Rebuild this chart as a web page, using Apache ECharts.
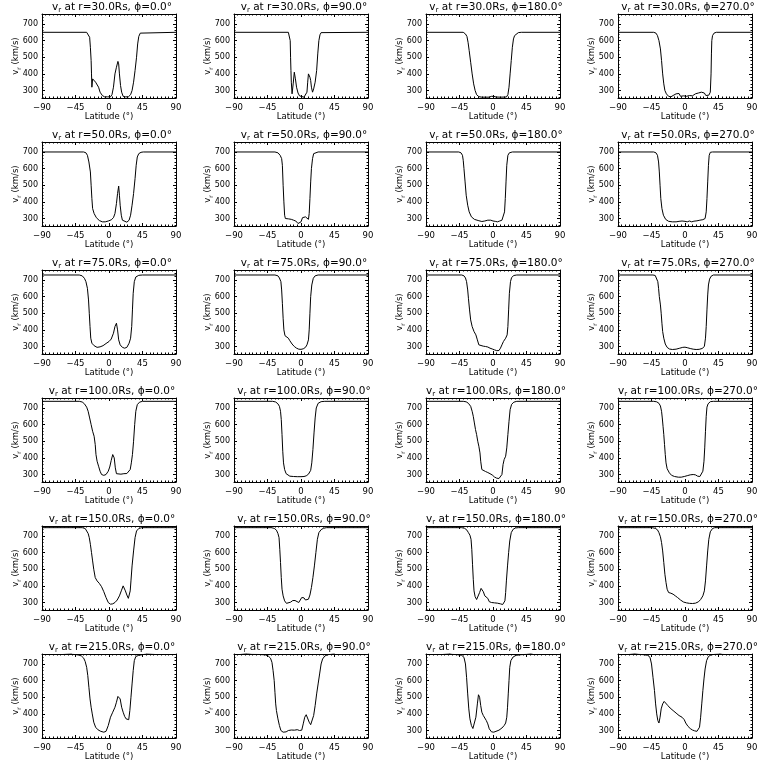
<!DOCTYPE html>
<html>
<head>
<meta charset="utf-8">
<script src="https://cdn.jsdelivr.net/npm/echarts@6/dist/echarts.min.js"></script>
<style>html,body{margin:0;padding:0;background:#fff;}#c{width:768px;height:768px;}</style>
</head>
<body>
<div id="c"></div>
<script>
// ---- data: [latitude (deg), v_r (km/s)] ----
const radii = [30.0, 50.0, 75.0, 100.0, 150.0, 215.0];
const phis = [0.0, 90.0, 180.0, 270.0];
const xTicks = [-90, -45, 0, 45, 90];
const yTicks = [300, 400, 500, 600, 700];
const yRange = [255, 760];

const r30_p0 = [[-90,650],[-30,650],[-27.5,645],[-26,620],[-25,560],[-24,480],[-23.5,400],[-23,320],[-22,370],[-20,360],[-18,350],[-16,345],[-14,320],[-12,290],[-9,270],[-6,262],[-2,262],[2,262],[4,275],[6,320],[8,400],[10,440],[12,475],[13,460],[14,400],[15.5,330],[17,290],[19,265],[22,262],[26,262],[29,275],[31,300],[33,350],[35,420],[37,500],[38.5,580],[40,625],[42,645],[44,650],[90,650]];
const r30_p90 = [[-90,650],[-17,650],[-15.5,640],[-14.5,600],[-14,500],[-13.5,420],[-13,350],[-12,280],[-10.5,340],[-9,410],[-7.5,370],[-6,320],[-4,285],[-2,268],[0,262],[4,260],[6,265],[8,290],[9,350],[10,400],[11,395],[12,380],[13,360],[14,320],[15.5,290],[17,310],[19,350],[21,420],[22.5,520],[24,600],[25.5,635],[27,648],[29,650],[90,650]];
const r30_p180 = [[-90,650],[-40,650],[-37,640],[-35,625],[-33.5,590],[-32,540],[-30,470],[-28,400],[-26,340],[-24,300],[-22,275],[-19,263],[-15,260],[-5,260],[-2,265],[1,265],[4,261],[10,260],[18,261],[20,275],[21.5,320],[23,400],[24.5,480],[26,560],[27.5,610],[29,630],[31,642],[34,648],[38,650],[90,650]];
const r30_p270 = [[-90,650],[-42,650],[-39,645],[-37,630],[-35,600],[-33,550],[-31.5,480],[-30,400],[-28.5,340],[-27,300],[-25,280],[-22,265],[-19,262],[-16,270],[-14,262],[-12,280],[-10,270],[-8,282],[-6,265],[-4,275],[-2,268],[0,272],[2,265],[4,275],[6,270],[8,272],[10,268],[12,275],[14,280],[16,272],[18,285],[20,278],[22,290],[24,280],[26,285],[28,270],[30,265],[32,272],[34,290],[35,400],[35.5,520],[36,600],[37,630],[39,645],[42,650],[90,650]];

const r50_p0 = [[-90,700],[-34,700],[-31,695],[-29,680],[-27,640],[-25,580],[-24,500],[-23,420],[-22,360],[-20,330],[-17,305],[-13,288],[-9,280],[-5,280],[-1,285],[3,292],[6,305],[8,330],[10,390],[11.5,450],[13,495],[14,440],[15,380],[16.5,320],[18,290],[20,278],[24,278],[27,290],[29,320],[31,380],[33,450],[35,540],[36.5,620],[38,670],[40,690],[43,698],[46,700],[90,700]];
const r50_p90 = [[-90,700],[-35,700],[-31,695],[-28,680],[-26,660],[-25,620],[-24,500],[-23,400],[-22,320],[-21,300],[-17,298],[-13,295],[-10,290],[-7,285],[-4,270],[-2,266],[0,280],[2,305],[4,312],[6,310],[8,298],[10,295],[11,330],[12,420],[13,520],[14,600],[15.5,660],[17,690],[19,698],[23,700],[90,700]];
const r50_p180 = [[-90,700],[-46,700],[-43,695],[-41,680],[-40,650],[-39,600],[-37.5,520],[-36,440],[-34,380],[-32,340],[-29,310],[-25,295],[-20,288],[-15,282],[-11,285],[-7,290],[-3,290],[0,285],[3,283],[6,280],[9,285],[12,290],[14,300],[15.5,340],[16.5,420],[17.5,520],[18.5,620],[20,680],[22,695],[26,700],[90,700]];
const r50_p270 = [[-90,700],[-42,700],[-39,695],[-37,680],[-35.5,640],[-34.5,580],[-33.5,500],[-32.5,420],[-31,360],[-29,320],[-26,295],[-22,283],[-17,280],[-12,280],[-8,283],[-4,285],[0,283],[3,280],[6,285],[9,280],[12,284],[16,286],[20,290],[24,293],[27,300],[28.5,340],[29.5,420],[30.5,520],[31.5,620],[32.5,680],[34,698],[37,700],[90,700]];

const r75_p0 = [[-90,730],[-40,730],[-36,725],[-33,710],[-31,690],[-29,650],[-27.5,580],[-26.5,500],[-25.5,420],[-24.5,350],[-23,320],[-20,305],[-16,295],[-12,298],[-8,305],[-4,318],[0,330],[3,345],[6,380],[8,420],[10,440],[11.5,400],[13,340],[15,310],[18,295],[21,290],[24,295],[27,320],[29,350],[30.5,420],[31.5,520],[32.5,620],[34,690],[36,718],[40,728],[45,730],[90,730]];
const r75_p90 = [[-90,730],[-35,730],[-31,725],[-29,712],[-27,690],[-26,640],[-25,560],[-24,470],[-23,400],[-21.5,365],[-19,360],[-17,350],[-15,335],[-12,315],[-9,300],[-6,290],[-3,284],[0,283],[3,286],[6,295],[8,310],[10,340],[11,400],[12,500],[13,600],[14.5,670],[16.5,710],[19,725],[23,730],[90,730]];
const r75_p180 = [[-90,730],[-42,730],[-39,725],[-37,712],[-35.5,690],[-34,640],[-33,590],[-31.5,520],[-30,460],[-28,420],[-25.5,390],[-23,370],[-21,340],[-19,310],[-17,302],[-13,302],[-10,300],[-7,297],[-4,290],[-1,285],[2,280],[5,275],[8,276],[10,290],[12,310],[14,330],[17,350],[19,370],[20,420],[21,520],[22,620],[23.5,690],[25,715],[28,727],[32,730],[90,730]];
const r75_p270 = [[-90,730],[-43,730],[-40,727],[-38,715],[-36.5,690],[-35.5,650],[-34.5,600],[-33,550],[-32,500],[-31,440],[-30,390],[-28.5,350],[-26.5,315],[-24,295],[-21,285],[-17,282],[-12,284],[-7,290],[-3,295],[0,296],[3,293],[7,288],[11,284],[15,282],[19,283],[23,288],[26,300],[27.5,350],[28.5,420],[29.5,520],[30.5,610],[31.5,670],[33,705],[35,722],[38,730],[90,730]];

const r100_p0 = [[-90,740],[-40,740],[-36,736],[-33,725],[-30,705],[-28,680],[-26,640],[-24,600],[-22,560],[-20,530],[-18.5,480],[-17.5,420],[-16,380],[-14,350],[-12,320],[-10,300],[-7,295],[-4,300],[-1,320],[1,345],[3,385],[5,420],[6,425],[7,400],[8.5,340],[10,305],[12,298],[16,302],[20,305],[24,306],[26.5,310],[28.5,330],[30,370],[31.5,420],[33,500],[34.5,600],[36,680],[38,720],[41,735],[45,740],[90,740]];
const r100_p90 = [[-90,740],[-38,740],[-34,736],[-31,725],[-29,710],[-27.5,680],[-26.5,630],[-25.5,540],[-24.5,440],[-23.5,370],[-22,330],[-20,305],[-18,295],[-15,290],[-10,288],[-5,287],[0,287],[4,288],[7,292],[10,302],[13,325],[14.5,370],[16,450],[17.5,550],[19,640],[20.5,700],[23,728],[27,738],[32,740],[90,740]];
const r100_p180 = [[-90,740],[-40,740],[-36,737],[-33,728],[-30,710],[-28,680],[-26.5,650],[-25,610],[-23.5,570],[-22,540],[-20.5,500],[-19,470],[-17.5,430],[-16.5,380],[-15,330],[-13,322],[-10,318],[-7,312],[-4,305],[-1,297],[2,285],[5,278],[8,276],[10.5,280],[12,300],[13.5,360],[15,390],[17,410],[18.5,460],[20,540],[21.5,620],[23,690],[25,722],[28,735],[32,740],[90,740]];
const r100_p270 = [[-90,740],[-42,740],[-38,737],[-35,728],[-33,712],[-31.5,680],[-30.5,640],[-29.5,590],[-28.5,540],[-27.5,480],[-26.5,420],[-25.5,370],[-24,335],[-21,310],[-18,295],[-14,288],[-9,284],[-5,284],[-1,288],[3,293],[7,298],[11,300],[14,298],[17,290],[20,288],[22,295],[24,320],[25.5,380],[26.5,460],[27.5,560],[28.5,650],[29.5,705],[31,725],[34,738],[38,740],[90,740]];

const r150_p0 = [[-90,750],[-36,750],[-32,745],[-30,735],[-28,715],[-26.5,690],[-25,650],[-23.5,600],[-22,550],[-20.5,500],[-18.5,450],[-16,430],[-13,415],[-10,395],[-7,365],[-4,330],[-1,300],[2,290],[5,292],[8,300],[11,315],[14,340],[16.5,370],[19,400],[20.5,390],[22,370],[24,345],[26,325],[27.5,335],[28.5,370],[29.5,430],[31,520],[33,610],[35,690],[37,730],[40,745],[44,750],[90,750]];
const r150_p90 = [[-90,750],[-40,750],[-36,746],[-33,735],[-31,715],[-29.5,690],[-28.5,620],[-27.5,540],[-26.5,450],[-25.5,380],[-24,340],[-22,310],[-19.5,295],[-17,292],[-14,302],[-11,312],[-8,312],[-6,302],[-3,300],[-1,305],[1,330],[2.5,340],[4,328],[6,315],[8,310],[10,320],[12,345],[14,390],[16,450],[18,520],[20,600],[22,680],[24,720],[27,738],[30,746],[34,750],[90,750]];
const r150_p180 = [[-90,750],[-42,750],[-38,746],[-35,735],[-33,720],[-31,705],[-29.5,680],[-28.5,620],[-27.5,530],[-26.5,440],[-25.5,370],[-24,335],[-22,318],[-20,330],[-18,360],[-16,385],[-14.5,390],[-13,365],[-11,340],[-9,335],[-7,325],[-5,305],[-2,300],[2,298],[6,296],[10,292],[13,288],[15,290],[16,310],[17,360],[18,430],[19.5,520],[21,600],[22.5,670],[24.5,720],[27,740],[30,748],[34,750],[90,750]];
const r150_p270 = [[-90,750],[-44,750],[-40,746],[-37,737],[-35,720],[-33,695],[-31.5,660],[-30,610],[-28.5,540],[-27,470],[-25.5,420],[-24,380],[-22,360],[-19,356],[-16,350],[-13,340],[-10,330],[-6,315],[-2,303],[2,298],[6,295],[10,294],[14,296],[18,304],[21,318],[24,340],[26,370],[27.5,430],[29,520],[30.5,610],[32,680],[34,725],[37,745],[40,750],[90,750]];

const r215_p0 = [[-90,780],[-52,765],[-49,758],[-44,756],[-40,753],[-37,748],[-34,735],[-32,715],[-30,680],[-28.5,630],[-27,560],[-25.5,490],[-24,440],[-22.5,400],[-20.5,350],[-18,320],[-15,305],[-11,295],[-7,290],[-4,295],[-1,330],[2,380],[5,410],[8,440],[10,470],[12,505],[13.5,510],[15,490],[17,440],[19,410],[21,385],[23,370],[25,360],[26.5,365],[28,420],[29.5,500],[31,580],[32.5,660],[34,720],[36,745],[40,752],[45,756],[49,759],[52,765],[90,780]];
const r215_p90 = [[-90,775],[-72,762],[-66,758],[-56,757],[-48,755],[-44,748],[-41,735],[-39,710],[-37.5,660],[-36,600],[-35,530],[-34,460],[-33,420],[-31,370],[-29,330],[-27,300],[-24,290],[-20,292],[-17,300],[-13,303],[-9,302],[-5,305],[-2,300],[1,302],[3,340],[5,380],[7,395],[9,385],[11,350],[13,335],[15,345],[17,390],[19,450],[21,520],[23,580],[25,640],[27,700],[29,730],[32,748],[36,756],[40,758],[44,762],[48,775],[90,780]];
const r215_p180 = [[-90,780],[-60,765],[-55,758],[-48,756],[-42,752],[-39,740],[-37,700],[-35.5,620],[-34,520],[-32.5,430],[-31,370],[-29,330],[-27,312],[-25,320],[-23,380],[-21,460],[-19.5,515],[-18,500],[-16.5,450],[-15,410],[-13,390],[-11,380],[-9,360],[-7,340],[-5,310],[-2,292],[1,290],[4,295],[8,302],[12,315],[15,330],[17,345],[18.5,380],[19.5,440],[20.5,520],[21.5,600],[22.5,680],[24,720],[27,742],[31,752],[38,756],[45,758],[50,762],[55,770],[90,780]];
const r215_p270 = [[-90,780],[-70,765],[-62,758],[-56,756],[-50,752],[-47,740],[-45,700],[-43,620],[-41,540],[-39.5,460],[-38,400],[-36.5,360],[-35,345],[-33.5,380],[-32,430],[-30,460],[-28,475],[-26,465],[-23,450],[-20,435],[-16,420],[-12,405],[-8,390],[-4,380],[-1,365],[1,345],[4,325],[7,312],[10,303],[13,298],[16,295],[18,300],[19.5,320],[21,380],[22.5,460],[24,540],[25.5,610],[27,670],[29,720],[31.5,745],[35,755],[40,758],[45,760],[50,768],[90,780]];

const profiles = [
  [r30_p0, r30_p90, r30_p180, r30_p270],
  [r50_p0, r50_p90, r50_p180, r50_p270],
  [r75_p0, r75_p90, r75_p180, r75_p270],
  [r100_p0, r100_p90, r100_p180, r100_p270],
  [r150_p0, r150_p90, r150_p180, r150_p270],
  [r215_p0, r215_p90, r215_p180, r215_p270]
];

// ---- layout ----
const CELL_W = 192, CELL_H = 128;
const PL = 42, PT = 14, PW = 134, PH = 84;
const FONT = 'DejaVu Sans';
const rich = {
  v: {fontFamily: FONT, fontSize: 10.5, fontWeight: 'normal', color: '#000', lineHeight: 14},
  s: {fontFamily: FONT, fontSize: 7, fontWeight: 'normal', color: '#000', verticalAlign: 'bottom', lineHeight: 8},
  t: {fontFamily: FONT, fontSize: 10.5, fontWeight: 'normal', color: '#000', lineHeight: 14}
};
const richY = {
  v: {fontFamily: FONT, fontSize: 8.5, fontWeight: 'normal', color: '#000', lineHeight: 12},
  s: {fontFamily: FONT, fontSize: 6, fontWeight: 'normal', color: '#000', verticalAlign: 'bottom', lineHeight: 7},
  t: {fontFamily: FONT, fontSize: 8.5, fontWeight: 'normal', color: '#000', lineHeight: 12}
};
const minusFmt = v => (v < 0 ? '\u2212' + (-v) : String(v));

const grids = [], xAxes = [], yAxes = [], series = [], titles = [];
let idx = 0;
radii.forEach((r, ri) => {
  phis.forEach((p, ci) => {
    const left = ci * CELL_W + PL, top = ri * CELL_H + PT;
    grids.push({left: left, top: top, width: PW, height: PH, containLabel: false});
    titles.push({
      text: '{v|v}{s|r}{t| at r=' + r.toFixed(1) + 'Rs, \u03D5=' + p.toFixed(1) + '\u00B0}',
      left: left + PW / 2 + 3, top: ri * CELL_H, textAlign: 'center', padding: 0,
      textStyle: {fontWeight: 'normal', fontFamily: FONT, fontSize: 10.5, color: '#000', rich: rich}
    });
    const xCommon = {
      type: 'value', gridIndex: idx, min: xTicks[0], max: xTicks[xTicks.length - 1], interval: 45,
      axisLine: {show: true, onZero: false, lineStyle: {color: '#000', width: 1}},
      axisTick: {show: true, inside: true, length: 3, lineStyle: {color: '#000', width: 1}},
      minorTick: {show: true, splitNumber: 9, length: 1.5, lineStyle: {color: '#000', width: 1}},
      splitLine: {show: false}, minorSplitLine: {show: false}
    };
    xAxes.push(Object.assign({}, xCommon, {
      position: 'bottom',
      name: 'Latitude (\u00B0)', nameLocation: 'middle', nameGap: 14, nameMoveOverlap: false,
      nameTextStyle: {fontFamily: FONT, fontSize: 8.5, color: '#000'},
      axisLabel: {show: true, margin: 5, fontFamily: FONT, fontSize: 8.5, color: '#000', showMinLabel: true, showMaxLabel: true, formatter: minusFmt}
    }));
    xAxes.push(Object.assign({}, xCommon, {position: 'top', axisLabel: {show: false}}));
    const yCommon = {
      type: 'value', gridIndex: idx, min: yRange[0], max: yRange[1], splitNumber: 5,
      axisLine: {show: true, onZero: false, lineStyle: {color: '#000', width: 1}},
      axisTick: {show: true, inside: true, length: 3, customValues: yTicks, lineStyle: {color: '#000', width: 1}},
      minorTick: {show: true, splitNumber: 5, length: 1.5, lineStyle: {color: '#000', width: 1}},
      splitLine: {show: false}, minorSplitLine: {show: false}
    };
    yAxes.push(Object.assign({}, yCommon, {
      position: 'left',
      name: '{v|v}{s|r}{t| (km/s)}', nameLocation: 'middle', nameGap: 20, nameRotate: 90, nameMoveOverlap: false,
      nameTextStyle: {rich: richY},
      axisLabel: {show: true, margin: 4, fontFamily: FONT, fontSize: 8, color: '#000', customValues: yTicks}
    }));
    yAxes.push(Object.assign({}, yCommon, {position: 'right', axisLabel: {show: false}}));
    series.push({
      type: 'line', xAxisIndex: 2 * idx, yAxisIndex: 2 * idx,
      data: profiles[ri][ci], showSymbol: false, symbol: 'none', clip: true,
      lineStyle: {color: '#000', width: 1}, animation: false
    });
    idx++;
  });
});

const chart = echarts.init(document.getElementById('c'), null, {renderer: 'canvas'});
chart.setOption({
  backgroundColor: '#fff',
  animation: false,
  title: titles,
  grid: grids,
  xAxis: xAxes,
  yAxis: yAxes,
  series: series
});
</script>
</body>
</html>
